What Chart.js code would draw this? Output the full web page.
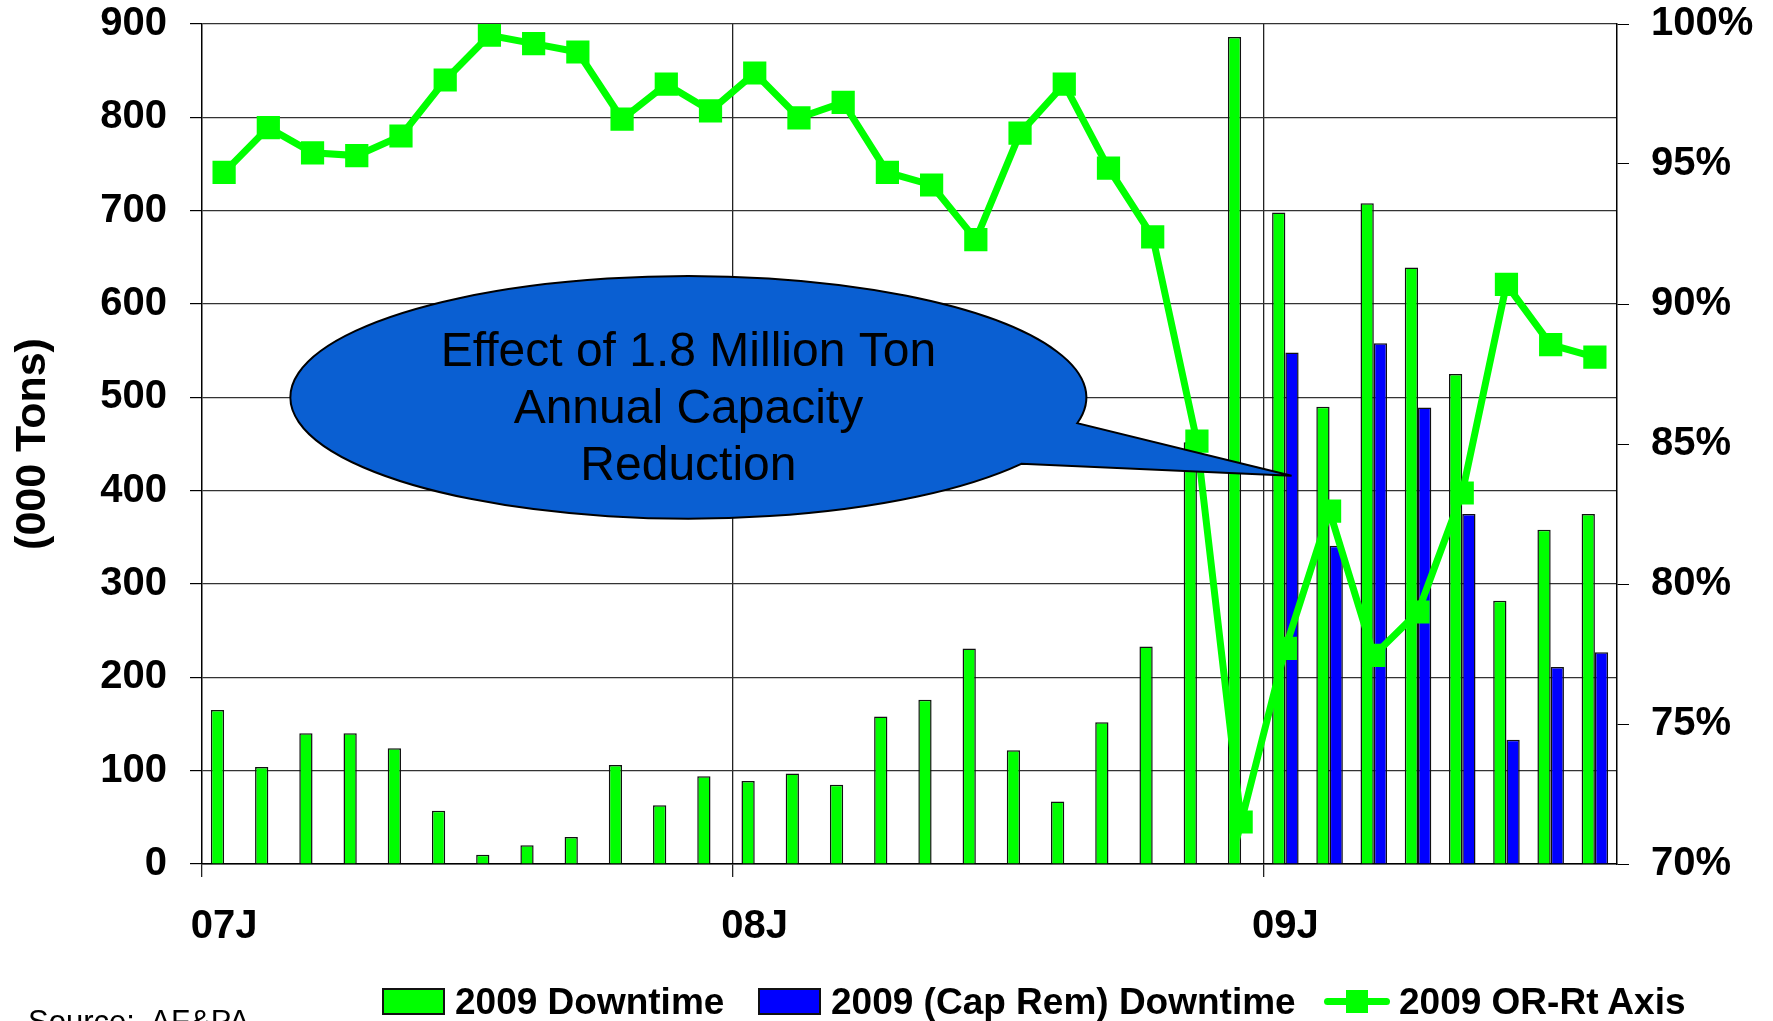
<!DOCTYPE html>
<html>
<head>
<meta charset="utf-8">
<script src="https://cdn.jsdelivr.net/npm/chart.js@4.4.1/dist/chart.umd.min.js"></script>
<style>
  html, body { margin: 0; padding: 0; background: #fff; overflow: hidden; }
  #wrap { position: relative; width: 1773px; height: 1021px; overflow: hidden;
          font-family: 'Liberation Sans', Arial, sans-serif; color: #000; }
  #chart { position: absolute; left: 0; top: 0; }
  .legend-item { position: absolute; top: 982px; height: 38px; display: flex; align-items: center;
                 font-weight: bold; font-size: 37px; line-height: 1; white-space: nowrap; }
  .swatch { width: 63px; height: 27px; box-sizing: border-box; border: 2px solid #111; margin-right: 10px; }
  .line-swatch { position: relative; width: 66px; height: 27px; margin-right: 9px; }
  .line-swatch .ln { position: absolute; left: 0; right: 0; top: 10px; height: 7px; border-radius: 4px; }
  .line-swatch .sq { position: absolute; left: 22px; top: 2px; width: 22px; height: 23px; }
  #source { position: absolute; left: 28px; top: 1006px; font-size: 31px; line-height: 1; white-space: nowrap; }
</style>
</head>
<body>
<div id="wrap">
  <canvas id="chart" width="1773" height="1021"></canvas>
  <div id="legend"></div>
  <div id="source">Source:&nbsp; AF&amp;PA</div>
</div>
<script>
// months Jan 2007 .. Aug 2009
const months = [
  '07J', '07F', '07M', '07A', '07M', '07J', '07J', '07A', '07S', '07O', '07N', '07D',
  '08J', '08F', '08M', '08A', '08M', '08J', '08J', '08A', '08S', '08O', '08N', '08D',
  '09J', '09F', '09M', '09A', '09M', '09J', '09J', '09A'
];

// 000 tons
const downtime = [
  165, 104, 140, 140, 124, 57, 10, 20, 29, 106, 63, 94,
  89, 97, 85, 158, 176, 231, 122, 67, 152, 233, 452, 886,
  698, 490, 708, 639, 525, 282, 358, 375
];

const capRemDowntime = [
  null, null, null, null, null, null, null, null, null, null, null, null,
  null, null, null, null, null, null, null, null, null, null, null, null,
  548, 341, 558, 489, 375, 133, 211, 227
];

// operating rate, %
const operatingRate = [
  94.7, 96.3, 95.4, 95.3, 96.0, 98.0, 99.6, 99.3, 99.0, 96.6, 97.85, 96.9,
  98.25, 96.65, 97.2, 94.7, 94.25, 92.3, 96.1, 97.85, 94.85, 92.4, 85.1, 71.5,
  77.7, 82.6, 77.45, 79.0, 83.25, 90.7, 88.55, 88.1
];

const calloutText = ['Effect of 1.8 Million Ton', 'Annual Capacity', 'Reduction'];

const FONT = "'Liberation Sans', Arial, sans-serif";
const GREEN = '#00ff00';
const BLUE = '#0000ff';

// speech bubble, placed in data units (x = month index, y = 000 tons)
const calloutPlugin = {
    id: 'callout',
    afterDatasetsDraw(chart) {
        const ctx = chart.ctx;
        const x = chart.scales.x;
        const y = chart.scales.y;
        const cx = x.getPixelForValue(10.5);
        const cy = y.getPixelForValue(500);
        const rx = x.getPixelForValue(19.5) - cx;
        const ry = y.getPixelForValue(370) - cy;
        const tipX = x.getPixelForValue(24.14);
        const tipY = y.getPixelForValue(416);

        ctx.save();
        ctx.beginPath();
        ctx.ellipse(cx, cy, rx, ry, 0, 0.58, 0.215 + Math.PI * 2);
        ctx.lineTo(tipX, tipY);
        ctx.closePath();
        ctx.fillStyle = '#0a5fd2';
        ctx.fill();
        ctx.lineWidth = 2;
        ctx.strokeStyle = '#000';
        ctx.stroke();

        ctx.fillStyle = '#000';
        ctx.font = '48px ' + FONT;
        ctx.textAlign = 'center';
        ctx.textBaseline = 'middle';
        calloutText.forEach(function (line, i) {
            ctx.fillText(line, cx, cy + (i - 1) * 57 + 12);
        });
        ctx.restore();
    }
};

const ctx = document.getElementById('chart').getContext('2d');
const chart = new Chart(ctx, {
    type: 'bar',
    data: {
        labels: months,
        datasets: [{
            type: 'line',
            label: '2009 OR-Rt Axis',
            data: operatingRate,
            yAxisID: 'y1',
            borderColor: GREEN,
            backgroundColor: GREEN,
            borderWidth: 7,
            tension: 0,
            pointStyle: 'rect',
            pointRadius: 15,
            pointBorderWidth: 2,
            pointBackgroundColor: GREEN,
            pointBorderColor: GREEN,
            order: 0
        }, {
            label: '2009 Downtime',
            data: downtime,
            yAxisID: 'y',
            backgroundColor: GREEN,
            borderColor: '#111',
            borderWidth: 1.5,
            order: 1
        }, {
            label: '2009 (Cap Rem) Downtime',
            data: capRemDowntime,
            yAxisID: 'y',
            backgroundColor: BLUE,
            borderColor: '#111',
            borderWidth: 1.5,
            order: 1
        }]
    },
    options: {
        responsive: false,
        animation: false,
        layout: { padding: 0 },
        datasets: {
            bar: { categoryPercentage: 0.6, barPercentage: 1.0 }
        },
        plugins: {
            legend: { display: false },
            tooltip: { enabled: false }
        },
        scales: {
            x: {
                offset: true,
                grid: {
                    offset: true,
                    lineWidth: 1.3,
                    color: c => (c.index === 12 || c.index === 24) ? '#222' : 'rgba(0,0,0,0)',
                    tickColor: c => (c.index === 0 || c.index === 12 || c.index === 24) ? '#222' : 'rgba(0,0,0,0)',
                    tickLength: 13
                },
                border: { color: '#000', width: 1.5 },
                ticks: {
                    autoSkip: false,
                    maxRotation: 0,
                    padding: 26,
                    color: '#000',
                    font: { family: FONT, size: 40, weight: 'bold' },
                    callback: function (value, index) {
                        return index % 12 === 0 ? this.getLabelForValue(value) : '';
                    }
                },
                afterFit: function (scale) { scale.height = 157; }
            },
            y: {
                position: 'left',
                min: 0,
                max: 900,
                ticks: {
                    stepSize: 100,
                    padding: 23,
                    color: '#000',
                    font: { family: FONT, size: 40, weight: 'bold', lineHeight: 0.05 }
                },
                grid: { color: '#333', lineWidth: 1.2, tickLength: 12, tickColor: '#000' },
                border: { color: '#000', width: 1.5 },
                title: {
                    display: true,
                    text: '(000 Tons)',
                    color: '#000',
                    font: { family: FONT, size: 43, weight: 'bold' },
                    padding: { top: 7, bottom: 0 }
                },
                afterFit: function (scale) { scale.width = 202; }
            },
            y1: {
                position: 'right',
                min: 70,
                max: 100,
                ticks: {
                    stepSize: 5,
                    padding: 22,
                    color: '#000',
                    font: { family: FONT, size: 40, weight: 'bold', lineHeight: 0.05 },
                    callback: v => v + '%'
                },
                grid: { drawOnChartArea: false, tickLength: 12, tickColor: '#000' },
                border: { color: '#000', width: 1.5 },
                afterFit: function (scale) { scale.width = 156; }
            }
        }
    },
    plugins: [calloutPlugin]
});

// legend below the plot, built from the datasets
const legendOrder = [1, 2, 0];
const legendLeft = [382, 758, 1324];
const legendBox = document.getElementById('legend');
legendOrder.forEach(function (dsIndex, i) {
    const ds = chart.data.datasets[dsIndex];
    const item = document.createElement('div');
    item.className = 'legend-item';
    item.style.left = legendLeft[i] + 'px';
    let swatch;
    if (ds.type === 'line') {
        swatch = document.createElement('div');
        swatch.className = 'line-swatch';
        swatch.innerHTML = '<div class="ln"></div><div class="sq"></div>';
        swatch.querySelector('.ln').style.background = ds.borderColor;
        swatch.querySelector('.sq').style.background = ds.borderColor;
    } else {
        swatch = document.createElement('div');
        swatch.className = 'swatch';
        swatch.style.background = ds.backgroundColor;
    }
    const label = document.createElement('span');
    label.textContent = ds.label;
    item.appendChild(swatch);
    item.appendChild(label);
    legendBox.appendChild(item);
});
</script>
</body>
</html>
